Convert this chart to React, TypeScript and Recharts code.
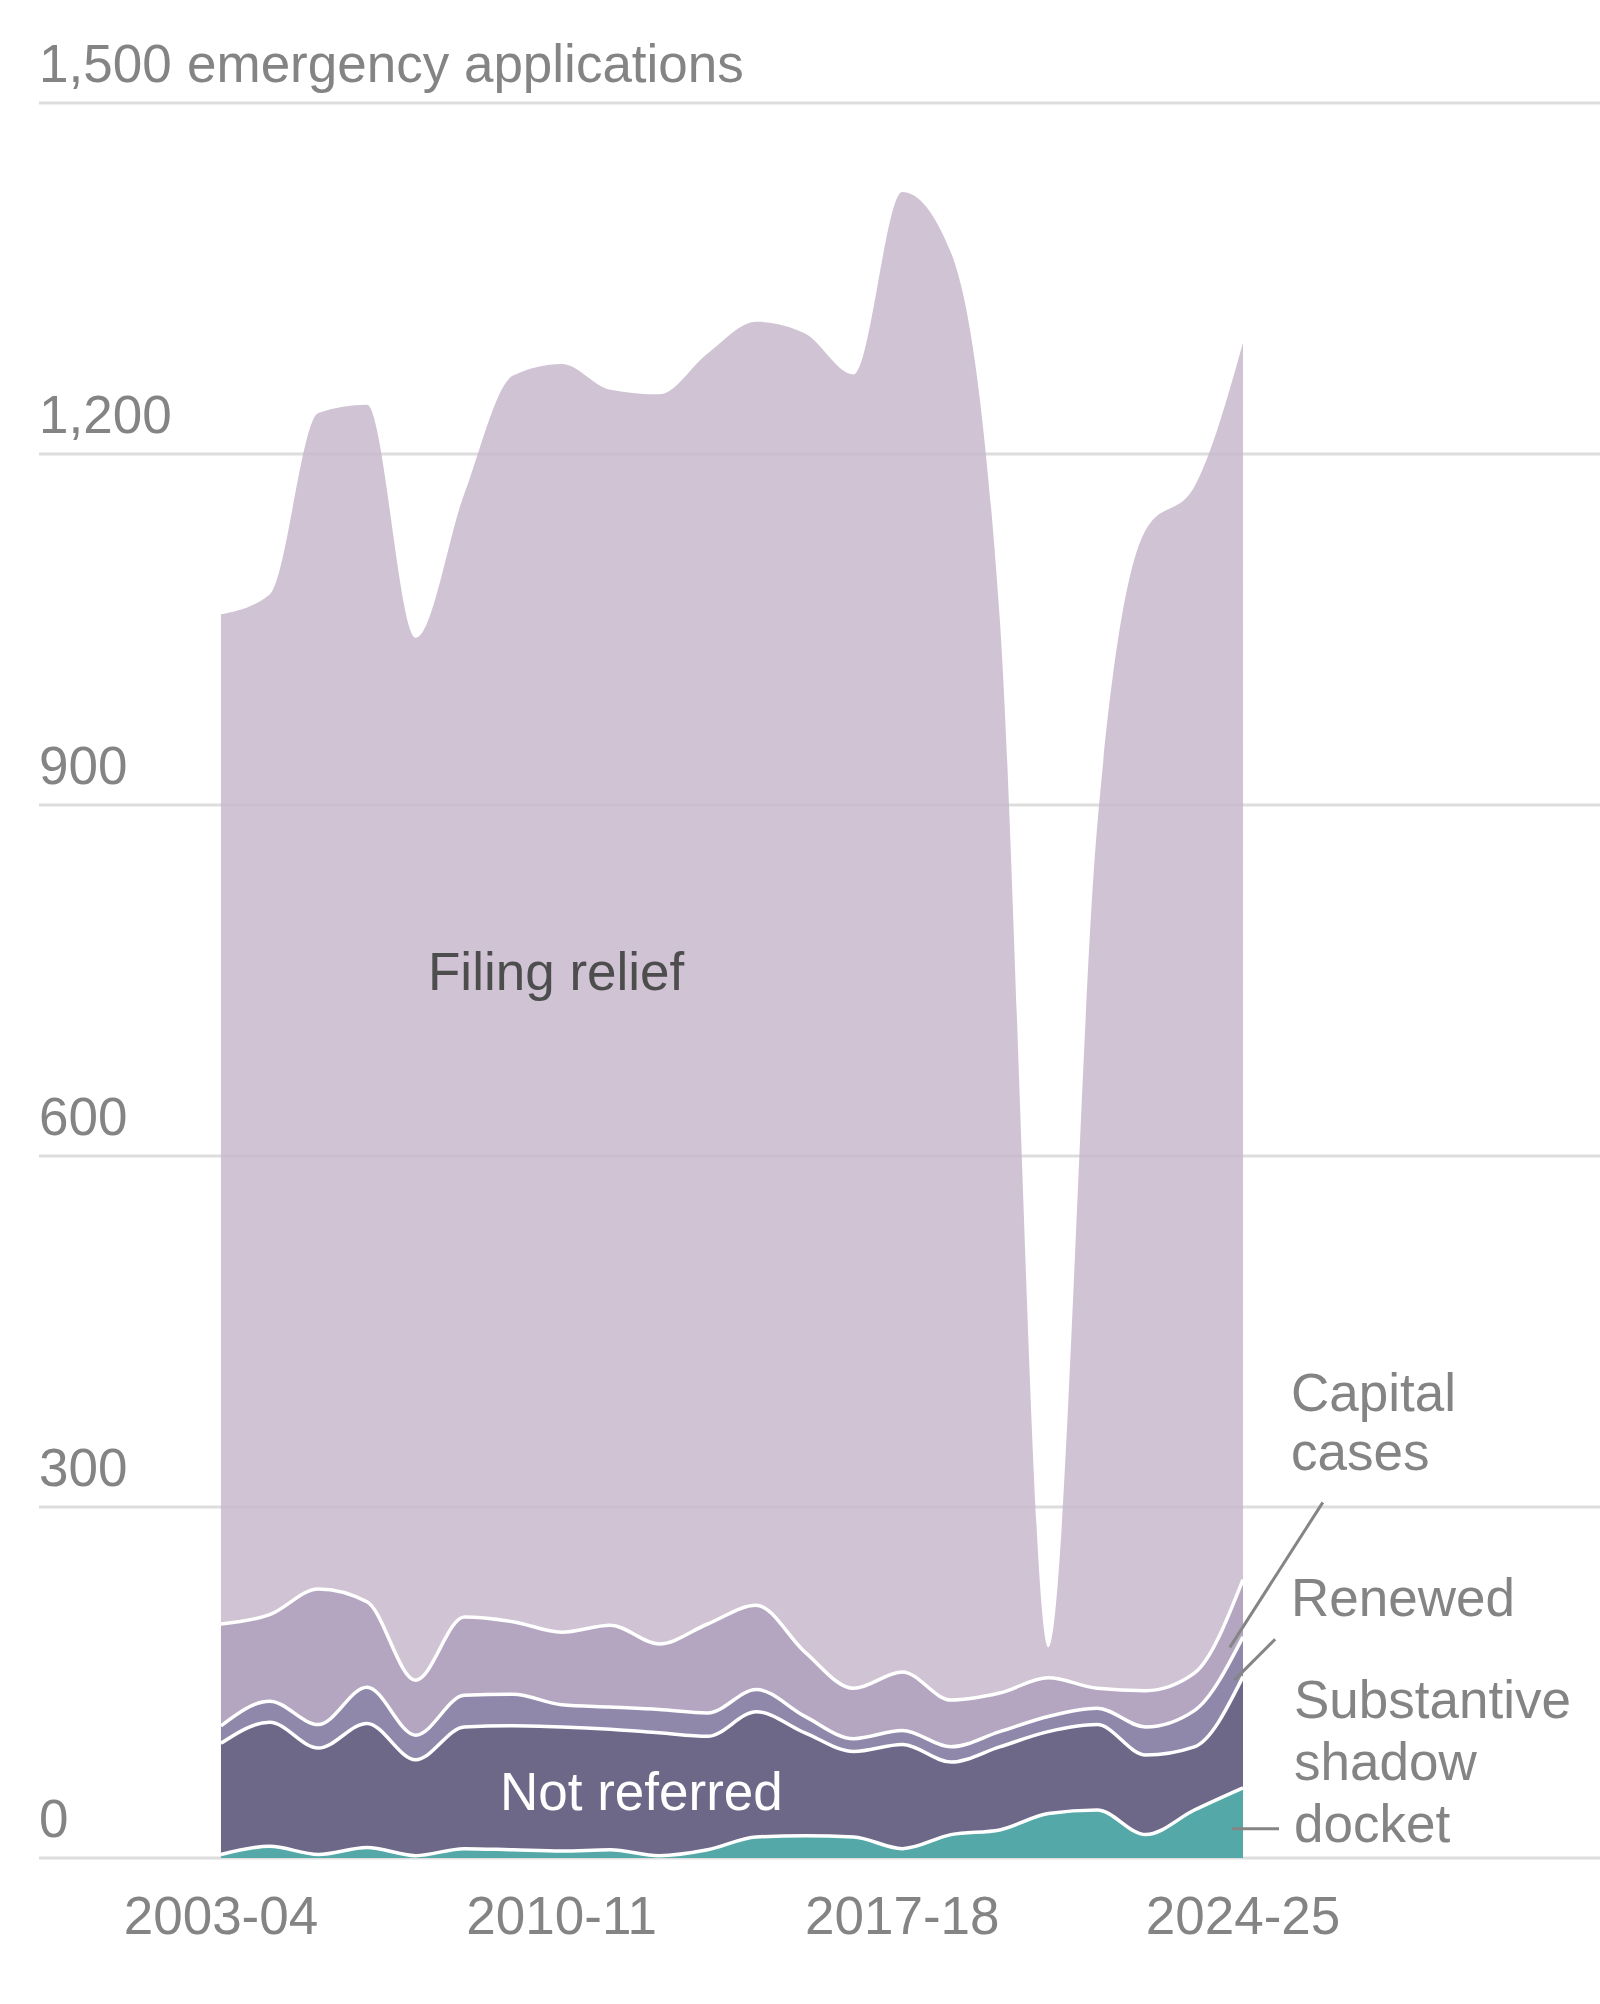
import React from 'react';
import {
  ComposedChart,
  Area,
  Line,
  XAxis,
  YAxis,
  CartesianGrid,
  ReferenceLine,
} from 'recharts';

// Term start years (2003 = 2003-04 term)
const years = [
  2003, 2004, 2005, 2006, 2007, 2008, 2009, 2010, 2011, 2012, 2013,
  2014, 2015, 2016, 2017, 2018, 2019, 2020, 2021, 2022, 2023, 2024,
];

const shadowDocket = [3, 10, 3, 9, 2, 8, 7, 6, 7, 2, 7, 18, 19, 18, 8, 20, 24, 38, 41, 20, 41, 60];
const notReferred = [95, 106, 91, 106, 82, 104, 106, 106, 103, 105, 97, 107, 88, 73, 89, 62, 71, 70, 73, 68, 54, 95];
const renewed = [15, 18, 20, 31, 21, 27, 27, 19, 19, 20, 20, 19, 14, 11, 12, 13, 13, 13, 14, 24, 31, 34];
const capitalCases = [87, 74, 116, 73, 47, 67, 62, 62, 70, 56, 76, 72, 55, 43, 50, 40, 33, 33, 17, 31, 32, 49];
const filingRelief = [863, 872, 1005, 1023, 891, 960, 1065, 1084, 1056, 1068, 1086, 1097, 1127, 1123, 1265, 1237, 919, 26, 735, 992, 1014, 1057];

const xTicks = [2003, 2010, 2017, 2024];
const yTicks = [0, 300, 600, 900, 1200, 1500];

const FONT = '"Liberation Sans", Arial, sans-serif';
const GRAY = '#848484';

const COLORS = {
  shadow: '#54a8a7',
  notReferred: '#6d6788',
  renewed: '#8f88aa',
  capital: '#b4a6c1',
  filing: '#c8b8cc',
};

const data = years.map((year, i) => {
  const c1 = shadowDocket[i];
  const c2 = c1 + notReferred[i];
  const c3 = c2 + renewed[i];
  const c4 = c3 + capitalCases[i];
  return {
    year,
    shadow: shadowDocket[i],
    notReferred: notReferred[i],
    renewed: renewed[i],
    capital: capitalCases[i],
    filing: filingRelief[i],
    c1,
    c2,
    c3,
    c4,
  };
});

const termLabel = (y: number) => `${y}-${String((y + 1) % 100).padStart(2, '0')}`;

const XTick = (props: any) => {
  const { x, y, payload } = props;
  return (
    <text x={x} y={y + 76} textAnchor="middle" fill={GRAY} fontSize={53} fontFamily={FONT}>
      {termLabel(payload.value)}
    </text>
  );
};

const YTick = (props: any) => {
  const { y, payload } = props;
  const v = Number(payload.value);
  const label = v.toLocaleString('en-US');
  return (
    <text x={39} y={y - 21} textAnchor="start" fill={GRAY} fontSize={53} fontFamily={FONT}>
      <tspan x={39}>{label}</tspan>
      {v === 1500 ? <tspan x={187}>emergency applications</tspan> : null}
    </text>
  );
};

const leader = { stroke: '#858585', strokeWidth: 3 };

export default function App() {
  return (
    <div style={{ position: 'absolute', left: 0, top: 0, width: 1600, height: 2004, background: '#fff' }}>
      <ComposedChart
        width={1600}
        height={2004}
        data={data}
        margin={{ top: 103, right: 0, bottom: 86, left: 29 }}
      >
        <CartesianGrid vertical={false} stroke="#dddddd" strokeWidth={3} />
        <XAxis
          dataKey="year"
          type="number"
          domain={[1999.261, 2031.335]}
          ticks={xTicks}
          allowDataOverflow
          axisLine={false}
          tickLine={false}
          tickSize={0}
          tickMargin={0}
          height={60}
          interval={0}
          tick={<XTick />}
        />
        <YAxis
          type="number"
          domain={[0, 1500]}
          ticks={yTicks}
          allowDataOverflow
          axisLine={false}
          tickLine={false}
          tickSize={0}
          tickMargin={0}
          width={10}
          interval={0}
          tick={<YTick />}
        />
        <Area type="monotone" dataKey="shadow" stackId="a" fill={COLORS.shadow} fillOpacity={1} stroke="none" isAnimationActive={false} />
        <Area type="monotone" dataKey="notReferred" stackId="a" fill={COLORS.notReferred} fillOpacity={1} stroke="none" isAnimationActive={false} />
        <Area type="monotone" dataKey="renewed" stackId="a" fill={COLORS.renewed} fillOpacity={1} stroke="none" isAnimationActive={false} />
        <Area type="monotone" dataKey="capital" stackId="a" fill={COLORS.capital} fillOpacity={1} stroke="none" isAnimationActive={false} />
        <Area type="monotone" dataKey="filing" stackId="a" fill={COLORS.filing} fillOpacity={0.85} stroke="none" isAnimationActive={false} />
        <Line type="monotone" dataKey="c1" stroke="#ffffff" strokeWidth={3.5} dot={false} activeDot={false} isAnimationActive={false} />
        <Line type="monotone" dataKey="c2" stroke="#ffffff" strokeWidth={3.5} dot={false} activeDot={false} isAnimationActive={false} />
        <Line type="monotone" dataKey="c3" stroke="#ffffff" strokeWidth={3.5} dot={false} activeDot={false} isAnimationActive={false} />
        <Line type="monotone" dataKey="c4" stroke="#ffffff" strokeWidth={3.5} dot={false} activeDot={false} isAnimationActive={false} />
        <ReferenceLine segment={[{ x: 2025.64, y: 304 }, { x: 2023.73, y: 180 }]} ifOverflow="visible" {...leader} />
        <ReferenceLine segment={[{ x: 2024.66, y: 187 }, { x: 2023.82, y: 152 }]} ifOverflow="visible" {...leader} />
        <ReferenceLine segment={[{ x: 2023.77, y: 25 }, { x: 2024.74, y: 25 }]} ifOverflow="visible" {...leader} />
      </ComposedChart>
      <svg
        width={1600}
        height={2004}
        style={{ position: 'absolute', left: 0, top: 0, pointerEvents: 'none' }}
        fontFamily={FONT}
        fontSize={53}
      >
        <text x={428} y={990} fill="#4d4d4d">Filing relief</text>
        <text x={500} y={1810} fill="#ffffff">Not referred</text>
        <text x={1291} y={1411} fill={GRAY}>Capital</text>
        <text x={1291} y={1470} fill={GRAY}>cases</text>
        <text x={1291} y={1616} fill={GRAY}>Renewed</text>
        <text x={1294} y={1718} fill={GRAY}>Substantive</text>
        <text x={1294} y={1780} fill={GRAY}>shadow</text>
        <text x={1294} y={1842} fill={GRAY}>docket</text>
      </svg>
    </div>
  );
}
